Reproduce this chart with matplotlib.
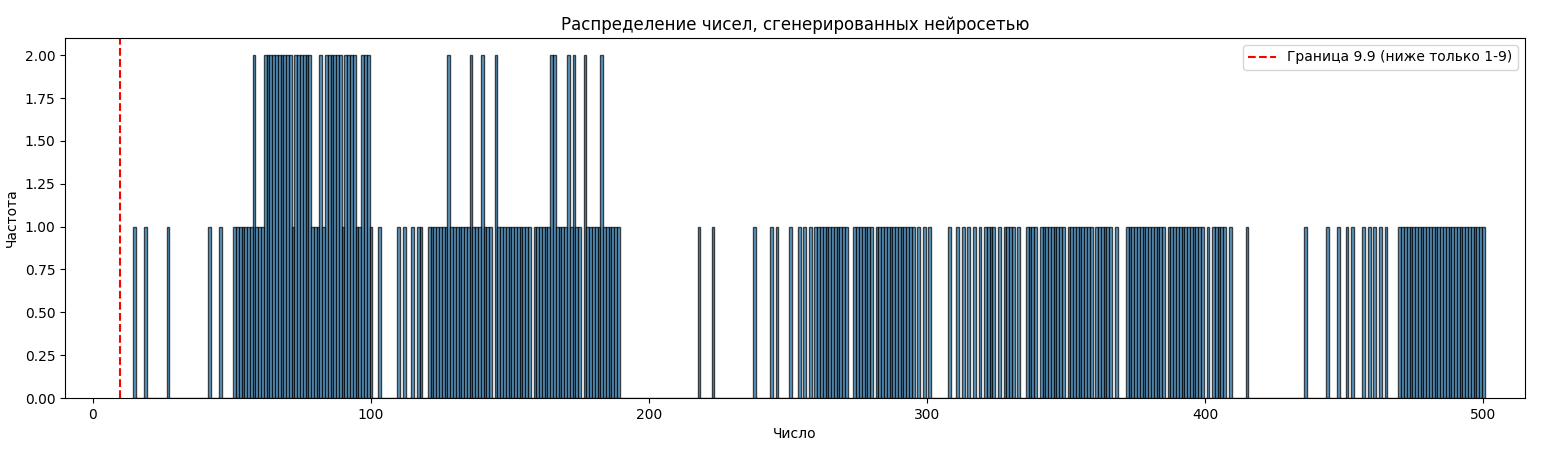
import numpy as np
import matplotlib
matplotlib.use("Agg")
import matplotlib.pyplot as plt

values_once = ([15, 19, 27, 42, 46]
    + list(range(51, 58)) + [59, 60, 61, 72, 79, 80, 81, 83, 90, 95, 96, 100]
    + [103, 110, 112, 115, 117, 118]
    + [v for v in range(121, 144) if v not in (128, 136, 140)]
    + [v for v in range(146, 158)]
    + [v for v in range(159, 176) if v not in (165, 166, 171, 173)]
    + [v for v in range(178, 190) if v != 183]
    + [218, 223, 238, 244, 246, 251, 254, 256, 258]
    + list(range(260, 272)) + list(range(274, 281)) + list(range(282, 296))
    + [297, 299, 301, 308, 311, 313, 315, 317, 319]
    + list(range(321, 325)) + [326, 328, 329, 330, 331, 333, 336, 337, 338, 339]
    + list(range(341, 350)) + list(range(351, 360)) + list(range(361, 367))
    + [368] + list(range(372, 386)) + list(range(387, 400)) + [401]
    + list(range(403, 408)) + [409, 415, 436, 444, 448, 451, 453, 457, 459, 461, 463, 465]
    + list(range(470, 501)))
values_twice = ([58, 62, 63, 64, 65, 66, 67, 68, 69, 70, 71, 73, 74, 75, 76, 77, 78,
                 82, 84, 85, 86, 87, 88, 89, 91, 92, 93, 94, 97, 98, 99,
                 128, 136, 140, 145, 165, 166, 171, 173, 177, 183])
threshold = 9.9

numbers = values_once + values_twice * 2
lo, hi = min(numbers), max(numbers)

fig = plt.figure(figsize=(15.6, 4.49), dpi=100)
ax = fig.add_axes([65/1560, 1 - 398/449, 1460/1560, 360/449])
ax.hist(numbers, bins=np.arange(lo - 0.5, hi + 1.5, 1), edgecolor='black', alpha=0.7)
ax.axvline(threshold, color='red', linestyle='--', label='Граница 9.9 (ниже только 1-9)')
ax.set_xlim(-10, 515)
ax.set_title('Распределение чисел, сгенерированных нейросетью')
ax.set_xlabel('Число')
ax.set_ylabel('Частота')
ax.legend(loc='upper right')
fig.savefig('out.png', dpi=100)
